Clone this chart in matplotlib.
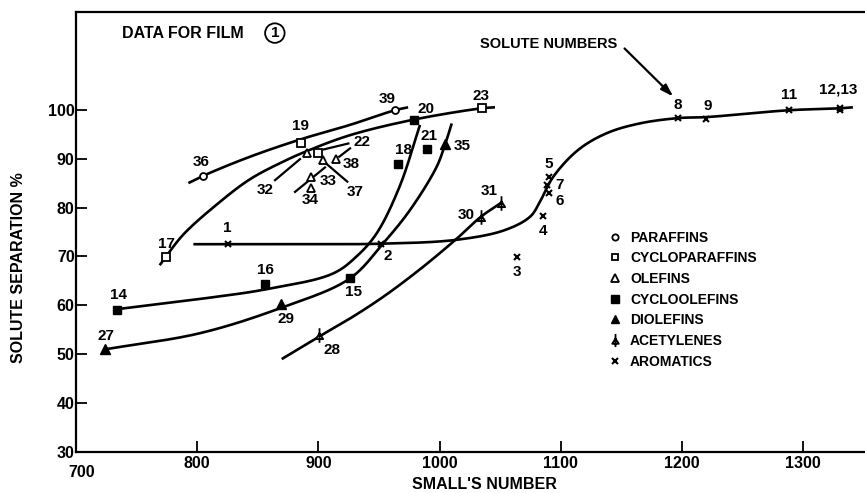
import numpy as np
import matplotlib
matplotlib.use("Agg")
import matplotlib.pyplot as plt
from matplotlib.lines import Line2D
from matplotlib.path import Path
import matplotlib.transforms as mtransforms

plt.rcParams['font.family'] = ['Liberation Sans', 'DejaVu Sans']
plt.rcParams['font.weight'] = 'bold'
plt.rcParams['axes.labelweight'] = 'bold'

# ---- measured solutes, grouped by hydrocarbon class ----
paraffin_ids = ["36", "39"]
paraffin_x = [805, 963]
paraffin_y = [86.5, 99.9]

cycloparaffin_ids = ["17", "19", "22", "23"]
cycloparaffin_x = [774, 885.4, 899.4, 1034.7]
cycloparaffin_y = [69.9, 93.1, 91.2, 100.3]

olefin_ids = ["32", "33", "34", "37", "38"]
olefin_x = [890.8, 893.9, 893.6, 903.5, 914.5]
olefin_y = [91.1, 86.2, 83.9, 89.7, 89.9]

cycloolefin_ids = ["14", "15", "16", "18", "20", "21"]
cycloolefin_x = [733.5, 926, 856, 966, 979, 990]
cycloolefin_y = [59.0, 65.5, 64.4, 89.0, 98.0, 91.9]

diolefin_ids = ["27", "29", "35"]
diolefin_x = [724, 868.9, 1004.5]
diolefin_y = [51.0, 60.2, 92.9]

acetylene_ids = ["28", "30", "31"]
acetylene_x = [900.5, 1034, 1051]
acetylene_y = [53.9, 78.1, 81.0]

aromatic_ids = ["1", "2", "3", "4", "5", "6", "7", "8", "9", "11", "12,13", ""]
aromatic_x = [825, 951.6, 1064, 1085.6, 1090, 1090, 1089, 1197, 1220, 1288, 1330, 1330]
aromatic_y = [72.5, 72.5, 69.9, 78.3, 86.3, 82.9, 84.6, 98.4, 98.2, 99.9, 100.4, 100.0]

# ---- hand-drawn trend curves (nodes along each curve) ----
paraffin_curve_x = [792.7, 805, 843.6, 886, 926, 963, 974]
paraffin_curve_y = [85.0, 86.5, 90.4, 94.0, 96.9, 99.9, 100.5]

cycloparaffin_curve_x = [769, 774, 788.6, 816, 843.6, 871, 890, 926, 979, 1034.7, 1045.7]
cycloparaffin_curve_y = [68.2, 69.9, 74.5, 80.6, 85.8, 89.4, 91.5, 94.8, 98.0, 100.3, 100.5]

cycloolefin_curve_x = [733.5, 802.3, 857.3, 912, 931.5, 948, 967, 983.8]
cycloolefin_curve_y = [59.2, 61.3, 63.3, 66.5, 70.0, 74.7, 84.3, 96.9]

diolefin_curve_x = [724, 802.3, 868.3, 926, 953.5, 975.6, 997.5, 1004.5, 1010]
diolefin_curve_y = [51.0, 54.3, 59.4, 65.5, 72.7, 79.5, 88.3, 92.9, 97.2]

acetylene_curve_x = [869.7, 900.5, 928, 955, 985, 1014, 1034, 1051]
acetylene_curve_y = [49.0, 53.6, 57.6, 62.0, 67.6, 73.6, 78.1, 81.0]

aromatic_curve_x = [796.8, 880, 951.6, 1014, 1054, 1075, 1083, 1093.8, 1114.4,
                    1137.8, 1165, 1197, 1220, 1288, 1330, 1341]
aromatic_curve_y = [72.5, 72.5, 72.6, 73.4, 75.4, 78.2, 81.3, 86.3, 91.8,
                    95.2, 97.2, 98.3, 98.5, 99.9, 100.3, 100.5]

# short straight strokes in the olefin cluster
cluster_strokes = [
    ((864.2, 85.6), (884.8, 89.9)),
    ((904.6, 91.9), (924.7, 93.1)),
    ((905.4, 89.2), (923.8, 85.3)),
    ((917.2, 90.4), (926.1, 92.1)),
    ((880.7, 83.2), (905.4, 88.2)),
]

x_ticks = [700, 800, 900, 1000, 1100, 1200, 1300]
y_ticks = [30, 40, 50, 60, 70, 80, 90, 100]

# label placement, pixel offsets from the marker
label_offsets = {
    "36": (-2, 14), "39": (-8, 11), "23": (-1, 12), "20": (12, 11), "19": (0, 17),
    "17": (1, 13), "22": (44, 11), "32": (-42, -37), "33": (17, -4), "34": (0, -12),
    "37": (32, -32), "38": (15, -5), "14": (2, 15), "15": (4, -14), "16": (0, 14),
    "18": (5, 14), "21": (2, 13), "27": (1, 13), "29": (5, -15), "35": (17, -2),
    "28": (13, -15), "30": (-15, 2), "31": (-12, 12), "1": (0, 16), "2": (7, -12),
    "3": (0, -15), "4": (0, -15), "5": (0, 13), "6": (11, -8), "7": (12, 0),
    "8": (-1, 13), "9": (2, 13), "11": (0, 15), "12,13": (-1, 18),
}

SX, SY = 1.212, 4.89  # pixels per data unit, used to smooth in screen space


def smooth_curve(xs, ys, n=24):
    """Centripetal Catmull-Rom spline through the curve nodes."""
    P = np.column_stack([np.asarray(xs, float) * SX, np.asarray(ys, float) * SY])
    P = np.vstack([2 * P[0] - P[1], P, 2 * P[-1] - P[-2]])
    out = []
    for i in range(1, len(P) - 2):
        p0, p1, p2, p3 = P[i - 1], P[i], P[i + 1], P[i + 2]
        t0 = 0.0
        t1 = t0 + max(np.linalg.norm(p1 - p0), 1e-6) ** 0.5
        t2 = t1 + max(np.linalg.norm(p2 - p1), 1e-6) ** 0.5
        t3 = t2 + max(np.linalg.norm(p3 - p2), 1e-6) ** 0.5
        t = np.linspace(t1, t2, n)[:, None]
        a1 = (t1 - t) / (t1 - t0) * p0 + (t - t0) / (t1 - t0) * p1
        a2 = (t2 - t) / (t2 - t1) * p1 + (t - t1) / (t2 - t1) * p2
        a3 = (t3 - t) / (t3 - t2) * p2 + (t - t2) / (t3 - t2) * p3
        b1 = (t2 - t) / (t2 - t0) * a1 + (t - t0) / (t2 - t0) * a2
        b2 = (t3 - t) / (t3 - t1) * a2 + (t - t1) / (t3 - t1) * a3
        c = (t2 - t) / (t2 - t1) * b1 + (t - t1) / (t2 - t1) * b2
        out.append(c if i == 1 else c[1:])
    C = np.vstack(out)
    return C[:, 0] / SX, C[:, 1] / SY


# acetylene symbol: vertical stroke through a small open triangle
acetylene_marker = Path(
    [(0, 1.0), (0, -1.0), (0, 0.3), (-0.5, -0.5), (0.5, -0.5), (0, 0.3)],
    [Path.MOVETO, Path.LINETO, Path.MOVETO, Path.LINETO, Path.LINETO, Path.CLOSEPOLY],
)

fig = plt.figure(figsize=(8.65, 4.93), dpi=100)
ax = fig.add_axes([0.0879, 0.0832, 0.9121, 0.8925])
ax.set_xlim(700, 1351)
ax.set_ylim(30, 120)

LW = 1.9
for cx, cy in [(paraffin_curve_x, paraffin_curve_y),
               (cycloparaffin_curve_x, cycloparaffin_curve_y),
               (cycloolefin_curve_x, cycloolefin_curve_y),
               (diolefin_curve_x, diolefin_curve_y),
               (acetylene_curve_x, acetylene_curve_y),
               (aromatic_curve_x, aromatic_curve_y)]:
    sx, sy = smooth_curve(cx, cy)
    ax.plot(sx, sy, color='black', lw=LW, solid_capstyle='butt', zorder=2)

for (x0, y0), (x1, y1) in cluster_strokes:
    ax.plot([x0, x1], [y0, y1], color='black', lw=1.6, zorder=2)

styles = {
    "PARAFFINS": dict(marker='o', ms=5, mfc='white', mec='black', mew=1.3),
    "CYCLOPARAFFINS": dict(marker='s', ms=5.2, mfc='white', mec='black', mew=1.3),
    "OLEFINS": dict(marker='^', ms=5.8, mfc='white', mec='black', mew=1.3),
    "CYCLOOLEFINS": dict(marker='s', ms=6.2, mfc='black', mec='black', mew=1.0),
    "DIOLEFINS": dict(marker='^', ms=6.6, mfc='black', mec='black', mew=1.0),
    "ACETYLENES": dict(marker=acetylene_marker, ms=10.5, mfc='white', mec='black', mew=1.3),
    "AROMATICS": dict(marker='x', ms=4.5, mfc='none', mec='black', mew=1.5),
}

groups = [
    ("PARAFFINS", paraffin_ids, paraffin_x, paraffin_y),
    ("CYCLOPARAFFINS", cycloparaffin_ids, cycloparaffin_x, cycloparaffin_y),
    ("OLEFINS", olefin_ids, olefin_x, olefin_y),
    ("CYCLOOLEFINS", cycloolefin_ids, cycloolefin_x, cycloolefin_y),
    ("DIOLEFINS", diolefin_ids, diolefin_x, diolefin_y),
    ("ACETYLENES", acetylene_ids, acetylene_x, acetylene_y),
    ("AROMATICS", aromatic_ids, aromatic_x, aromatic_y),
]

for name, ids, xs, ys in groups:
    ax.plot(xs, ys, ls='none', zorder=4, **styles[name])
    for sid, x, y in zip(ids, xs, ys):
        if not sid:
            continue
        dx, dy = label_offsets[sid]
        ax.annotate(sid, (x, y), xytext=(dx, dy), textcoords='offset pixels',
                    ha='center', va='center', fontsize=11, zorder=5)

# legend of solute classes
handles = [Line2D([], [], ls='none', **styles[name]) for name, *_ in groups]
leg = ax.legend(handles, [name for name, *_ in groups], loc='upper left',
                bbox_to_anchor=(0.674, 0.503), frameon=False, fontsize=10,
                handlelength=1.0, handletextpad=0.6, labelspacing=0.48,
                borderpad=0, borderaxespad=0, markerscale=0.9)

# annotations
ax.text(0.0583, 0.952, "DATA FOR FILM", transform=ax.transAxes, fontsize=11.5,
        ha='left', va='center')
ax.text(0.252, 0.952, "1", transform=ax.transAxes, fontsize=11, ha='center',
        va='center', bbox=dict(boxstyle='circle,pad=0.18', fc='white', ec='black', lw=1.3))
ax.annotate("SOLUTE NUMBERS", xy=(1192.8, 102.7), xytext=(1090.3, 113.4),
            fontsize=10.5, ha='center', va='center',
            arrowprops=dict(arrowstyle='-|>,head_length=0.7,head_width=0.22',
                            color='black', lw=1.6, shrinkA=0, shrinkB=0,
                            relpos=(1.05, 0.2)))

# axes frame: left, top and bottom only
for side in ['left', 'top', 'bottom']:
    ax.spines[side].set_linewidth(1.6)
ax.spines['right'].set_visible(False)

ax.set_xticks(x_ticks)
ax.set_yticks(y_ticks)
ax.tick_params(direction='in', length=8, width=1.3, labelsize=11.5, pad=3)
ax.tick_params(axis='y', pad=1)
ax.tick_params(top=False, right=False)

fig.canvas.draw()
first = ax.get_xticklabels()[0]
first.set_transform(first.get_transform() +
                    mtransforms.ScaledTranslation(6 / 100, -9 / 100, fig.dpi_scale_trans))

ax.set_xlabel("SMALL'S NUMBER", fontsize=11.5, fontweight='bold')
ax.xaxis.set_label_coords(0.518, -0.075)
ax.xaxis.label.set_va('center')
ax.set_ylabel("SOLUTE SEPARATION %", fontsize=11.5, fontweight='bold')
ax.yaxis.set_label_coords(-0.073, 0.42)
ax.yaxis.label.set_va('center')

fig.savefig("out.png", dpi=100)
